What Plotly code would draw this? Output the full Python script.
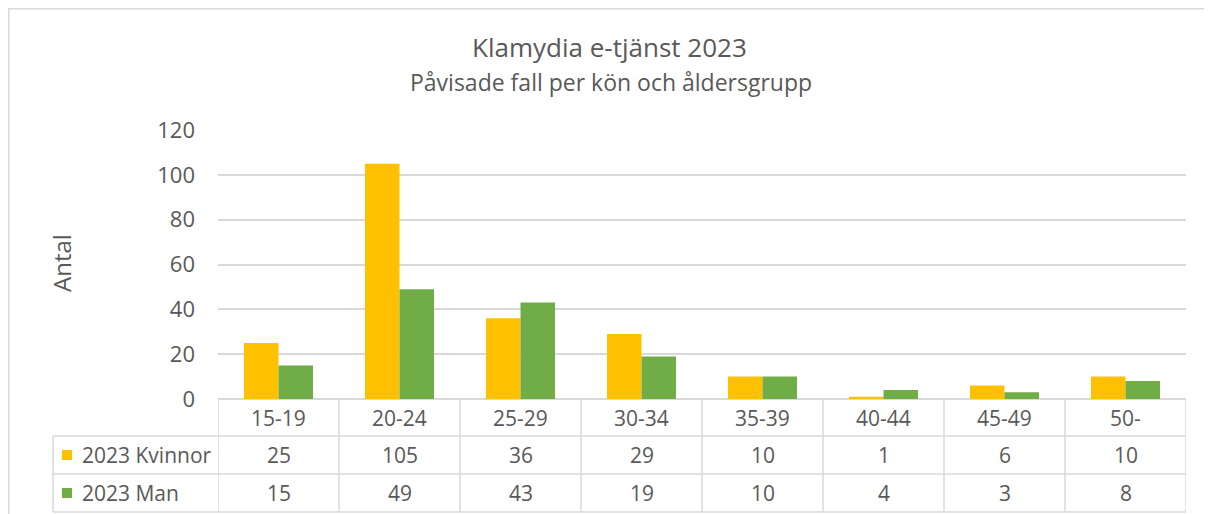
import plotly.graph_objects as go

categories = ["15-19", "20-24", "25-29", "30-34", "35-39", "40-44", "45-49", "50-"]
kvinnor = [25, 105, 36, 29, 10, 1, 6, 10]
man = [15, 49, 43, 19, 10, 4, 3, 8]
series_names = ["2023 Kvinnor", "2023 Man"]
y_ticks = [0, 20, 40, 60, 80, 100, 120]
title = "Klamydia e-tjänst 2023"
subtitle = "Påvisade fall per kön och åldersgrupp"
y_title = "Antal"

OFF = 8  # page body margin
W, H = 1212 - OFF, 514 - OFF
L, T = 218 - OFF, 130 - OFF
R = W - (1186 - OFF)
B = H - (399 - OFF)
PH = H - T - B
PW = W - L - R

def py(p):  # reference pixel y -> paper y
    return (H - B - (p - OFF)) / PH

def px(p):  # reference pixel x -> paper x
    return (p - OFF - L) / PW

FONT = "Open Sans"
TXT = "#595959"
GRID = "#d9d9d9"
colors = ["#FFC000", "#70AD47"]

fig = go.Figure()
for name, vals, c in zip(series_names, [kvinnor, man], colors):
    fig.add_trace(go.Bar(x=categories, y=vals, name=name, marker_color=c,
                         marker_line_width=0))

shapes = []
ann = []
# Outer chart border
shapes.append(dict(type="rect", xref="paper", yref="paper",
                   x0=px(8.75), x1=px(1260), y0=py(560), y1=py(8.75),
                   line=dict(color=GRID, width=1.5), layer="below"))
# Table horizontal lines
for r in [436, 474, 512]:
    shapes.append(dict(type="line", xref="paper", yref="paper",
                       x0=px(53), x1=1, y0=py(r), y1=py(r),
                       line=dict(color=GRID, width=1.5)))
# left vertical of legend column
shapes.append(dict(type="line", xref="paper", yref="paper",
                   x0=px(53), x1=px(53), y0=py(436), y1=py(512),
                   line=dict(color=GRID, width=1.5)))
# category boundaries
for i in range(len(categories) + 1):
    shapes.append(dict(type="line", xref="x", yref="paper",
                       x0=i - 0.5, x1=i - 0.5, y0=py(399.5), y1=py(512),
                       line=dict(color=GRID, width=1.5)))
# legend keys
for r, c in zip([455, 493], colors):
    shapes.append(dict(type="rect", xref="paper", yref="paper",
                       x0=px(62), x1=px(72), y0=py(r + 5), y1=py(r - 5),
                       fillcolor=c, line=dict(width=0)))

tf = dict(family=FONT, size=21, color=TXT)
for name, r in zip(series_names, [455, 493]):
    ann.append(dict(text=name, xref="paper", yref="paper", x=px(80), y=py(r),
                    xanchor="left", yanchor="middle", showarrow=False, font=tf))
for i, cat in enumerate(categories):
    ann.append(dict(text=cat, xref="x", yref="paper", x=cat, y=py(418),
                    xanchor="center", yanchor="middle", showarrow=False, font=tf))
    ann.append(dict(text=str(kvinnor[i]), xref="x", yref="paper", x=cat, y=py(455),
                    xanchor="center", yanchor="middle", showarrow=False, font=tf))
    ann.append(dict(text=str(man[i]), xref="x", yref="paper", x=cat, y=py(493),
                    xanchor="center", yanchor="middle", showarrow=False, font=tf))

ann.append(dict(text=title, xref="paper", yref="paper", x=px(609), y=py(47),
                xanchor="center", yanchor="middle", showarrow=False,
                font=dict(family=FONT, size=26, color=TXT)))
ann.append(dict(text=subtitle, xref="paper", yref="paper", x=px(611), y=py(82),
                xanchor="center", yanchor="middle", showarrow=False,
                font=dict(family=FONT, size=23, color=TXT)))
ann.append(dict(text=y_title, xref="paper", yref="paper", x=px(61), y=py(263),
                xanchor="center", yanchor="middle", showarrow=False, textangle=-90,
                font=dict(family=FONT, size=24, color=TXT)))

fig.update_layout(
    width=W, height=H,
    margin=dict(l=L, r=R, t=T, b=B),
    paper_bgcolor="white", plot_bgcolor="white",
    barmode="group", bargap=0.43, bargroupgap=0,
    showlegend=False,
    shapes=shapes, annotations=ann,
    font=dict(family=FONT, color=TXT),
)
fig.update_xaxes(type="category", range=[-0.5, len(categories) - 0.5],
                 showticklabels=False, showgrid=False, zeroline=False,
                 showline=False, fixedrange=True)
fig.update_yaxes(range=[0, 120], tickvals=y_ticks, showgrid=True, gridcolor=GRID,
                 gridwidth=1.5, zeroline=True, zerolinecolor=GRID, zerolinewidth=1.5,
                 showline=False, ticks="", ticklabelstandoff=22,
                 tickfont=dict(family=FONT, size=22, color=TXT))

fig.write_html("out.html")
